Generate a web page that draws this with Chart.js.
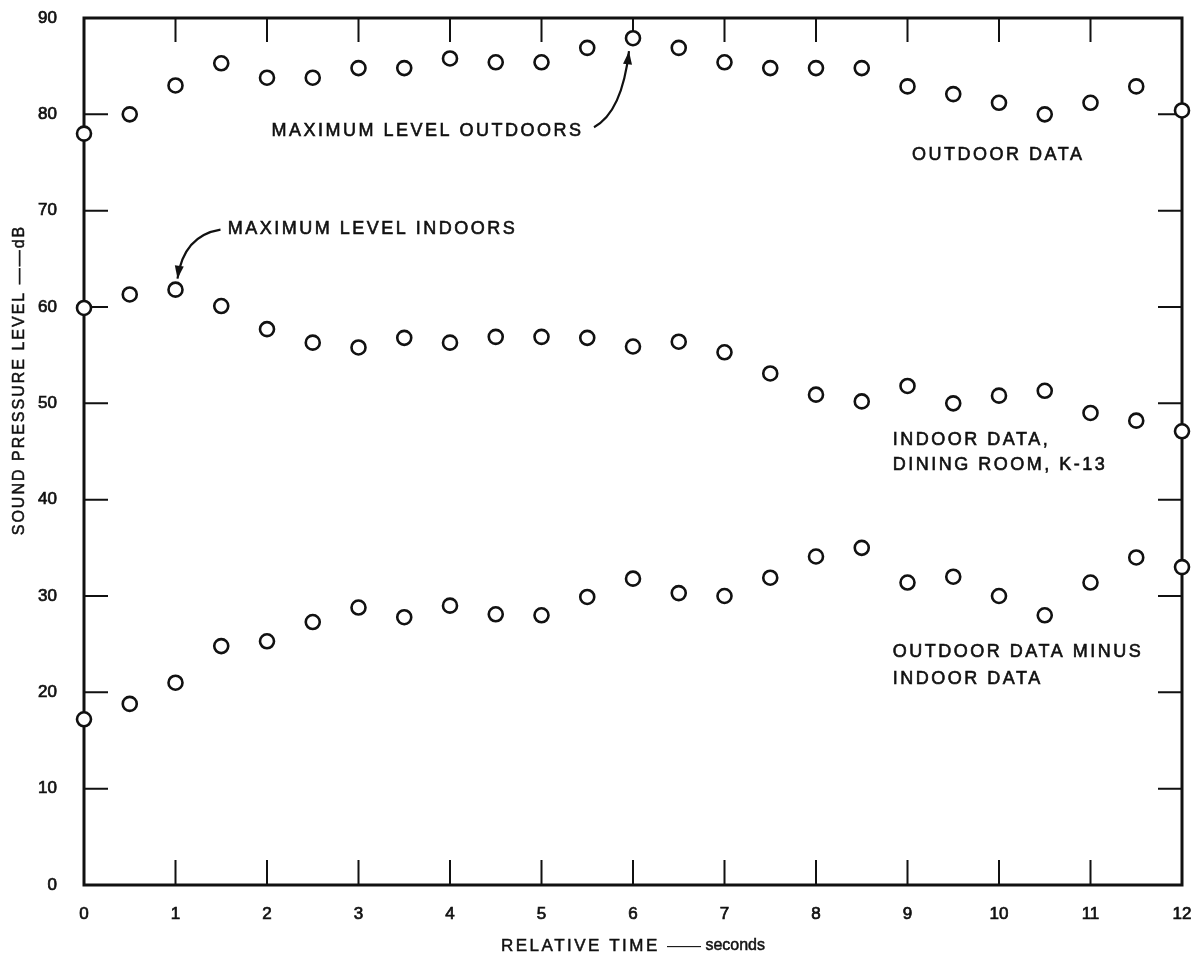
<!DOCTYPE html>
<html>
<head>
<meta charset="utf-8">
<script src="https://cdn.jsdelivr.net/npm/chart.js@4.4.1/dist/chart.umd.min.js"></script>
<style>
  body { margin: 0; background: #fff; }
  canvas { display: block; }
</style>
</head>
<body>
<canvas id="splChart" width="1198" height="962"></canvas>
<script>
// Relative time (s) and sound pressure levels (dB)
const times = [0, 0.5, 1, 1.5, 2, 2.5, 3, 3.5, 4, 4.5, 5, 5.5, 6, 6.5, 7, 7.5, 8, 8.5, 9, 9.5, 10, 10.5, 11, 11.5, 12];
const outdoor = [78, 80, 83, 85.3, 83.8, 83.8, 84.8, 84.8, 85.8, 85.4, 85.4, 86.9, 87.9, 86.9, 85.4, 84.8, 84.8, 84.8, 82.9, 82.1, 81.2, 80.0, 81.2, 82.9, 80.4];
const indoor = [59.9, 61.3, 61.8, 60.1, 57.7, 56.3, 55.8, 56.8, 56.3, 56.9, 56.9, 56.8, 55.9, 56.4, 55.3, 53.1, 50.9, 50.2, 51.8, 50.0, 50.8, 51.3, 49.0, 48.2, 47.1];
const difference = [17.2, 18.8, 21.0, 24.8, 25.3, 27.3, 28.8, 27.8, 29.0, 28.1, 28.0, 29.9, 31.8, 30.3, 30.0, 31.9, 34.1, 35.0, 31.4, 32.0, 30.0, 28.0, 31.4, 34.0, 33.0];
const xTicks = [0, 1, 2, 3, 4, 5, 6, 7, 8, 9, 10, 11, 12];
const yTicks = [0, 10, 20, 30, 40, 50, 60, 70, 80, 90];

const ink = "#111";
const labelFont = "Liberation Sans, Arial, sans-serif";

const toPoints = (ys) => times.map((t, i) => ({ x: t, y: ys[i] }));

const circleStyle = {
  pointStyle: "circle",
  pointRadius: 7,
  pointBorderWidth: 2.6,
  pointBorderColor: ink,
  pointBackgroundColor: "#fff",
  showLine: false,
  clip: false,
};

// text labels placed in data units: [time, dB, text]
const notes = [
  [2.05, 78.3, "MAXIMUM LEVEL OUTDOORS"],
  [9.05, 75.8, "OUTDOOR DATA"],
  [1.57, 68.1, "MAXIMUM LEVEL INDOORS"],
  [8.84, 46.2, "INDOOR DATA,"],
  [8.84, 43.6, "DINING ROOM, K-13"],
  [8.84, 24.2, "OUTDOOR DATA MINUS"],
  [8.84, 21.4, "INDOOR DATA"],
];

function arrow(ctx, x0, y0, cx, cy, x1, y1) {
  ctx.beginPath();
  ctx.moveTo(x0, y0);
  ctx.quadraticCurveTo(cx, cy, x1, y1);
  ctx.lineWidth = 2.2;
  ctx.stroke();
  const a = Math.atan2(y1 - cy, x1 - cx);
  const len = 13, w = 4.5;
  ctx.beginPath();
  ctx.moveTo(x1, y1);
  ctx.lineTo(x1 - len * Math.cos(a) + w * Math.sin(a), y1 - len * Math.sin(a) - w * Math.cos(a));
  ctx.lineTo(x1 - len * Math.cos(a) - w * Math.sin(a), y1 - len * Math.sin(a) + w * Math.cos(a));
  ctx.closePath();
  ctx.fill();
}

// fill + thin stroke so the text looks like the heavier type of the original
function heavyText(ctx, s, px, py) {
  ctx.fillText(s, px, py);
  ctx.strokeText(s, px, py);
}

const framePlugin = {
  id: "frame",
  beforeDatasetsDraw(chart) {
    const { ctx, chartArea: a, scales: { x, y } } = chart;
    ctx.save();
    ctx.strokeStyle = ink;
    ctx.lineWidth = 3;
    ctx.strokeRect(a.left, a.top, a.right - a.left, a.bottom - a.top);
    ctx.lineWidth = 2;
    ctx.beginPath();
    xTicks.slice(1, -1).forEach((t) => {
      const px = x.getPixelForValue(t);
      ctx.moveTo(px, a.top); ctx.lineTo(px, a.top + 24);
      ctx.moveTo(px, a.bottom); ctx.lineTo(px, a.bottom - 25);
    });
    yTicks.slice(1, -1).forEach((v) => {
      const py = y.getPixelForValue(v);
      ctx.moveTo(a.left, py); ctx.lineTo(a.left + 24, py);
      ctx.moveTo(a.right, py); ctx.lineTo(a.right - 24, py);
    });
    ctx.stroke();
    ctx.restore();
  },
  afterDraw(chart) {
    const { ctx, chartArea: a, scales: { x, y } } = chart;
    ctx.save();
    ctx.fillStyle = ink;
    ctx.strokeStyle = ink;
    ctx.lineWidth = 0.6;

    // annotations
    ctx.font = `18px ${labelFont}`;
    ctx.letterSpacing = "2.5px";
    ctx.textBaseline = "middle";
    ctx.textAlign = "left";
    notes.forEach(([t, v, s]) => heavyText(ctx, s, x.getPixelForValue(t), y.getPixelForValue(v)));

    // arrows pointing at the maxima
    const ox = x.getPixelForValue(6), oy = y.getPixelForValue(outdoor[12]);
    arrow(ctx, ox - 39, oy + 89, ox - 11, oy + 74, ox - 4, oy + 13);
    const ix = x.getPixelForValue(1), iy = y.getPixelForValue(indoor[2]);
    arrow(ctx, ix + 45, iy - 60, ix + 8, iy - 54, ix + 2, iy - 11);

    // x axis title
    ctx.lineWidth = 0.5;
    const caps = "RELATIVE TIME ", dash = "\u2014\u2014", small = " seconds";
    ctx.font = `17px ${labelFont}`;
    ctx.letterSpacing = "2.5px";
    const w1 = ctx.measureText(caps).width;
    ctx.letterSpacing = "0px";
    const w2 = ctx.measureText(dash).width;
    ctx.font = `16px ${labelFont}`;
    const w3 = ctx.measureText(small).width;
    const sx = (a.left + a.right) / 2 - (w1 + w2 + w3) / 2;
    const ty = 946;
    ctx.font = `17px ${labelFont}`;
    ctx.letterSpacing = "2.5px";
    heavyText(ctx, caps, sx, ty);
    ctx.letterSpacing = "0px";
    ctx.fillText(dash, sx + w1, ty);
    ctx.font = `16px ${labelFont}`;
    heavyText(ctx, small, sx + w1 + w2, ty);

    // y axis title
    ctx.translate(20, 380);
    ctx.rotate(-Math.PI / 2);
    ctx.textAlign = "center";
    ctx.font = `16px ${labelFont}`;
    ctx.letterSpacing = "2px";
    heavyText(ctx, "SOUND PRESSURE LEVEL \u2014\u2014dB", 0, 0);
    ctx.restore();
  },
};

const tickFont = { family: labelFont, size: 17 };

new Chart(document.getElementById("splChart"), {
  type: "scatter",
  data: {
    datasets: [
      { label: "Outdoor data", data: toPoints(outdoor), ...circleStyle },
      { label: "Indoor data, dining room, K-13", data: toPoints(indoor), ...circleStyle },
      { label: "Outdoor minus indoor", data: toPoints(difference), ...circleStyle },
    ],
  },
  options: {
    responsive: false,
    animation: false,
    devicePixelRatio: 1,
    layout: { padding: { top: 18, right: 16, left: 0, bottom: 0 } },
    plugins: { legend: { display: false }, tooltip: { enabled: false } },
    scales: {
      x: {
        type: "linear",
        min: 0,
        max: 12,
        afterFit: (s) => { s.height = 77; s.paddingLeft = 0; s.paddingRight = 0; },
        afterBuildTicks: (s) => { s.ticks = xTicks.map((v) => ({ value: v })); },
        ticks: { color: ink, font: tickFont, padding: 11, maxRotation: 0, textStrokeColor: ink, textStrokeWidth: 0.7 },
        grid: { display: false },
        border: { display: false },
      },
      y: {
        min: 0,
        max: 90,
        afterFit: (s) => { s.width = 84; s.paddingTop = 0; s.paddingBottom = 0; },
        afterBuildTicks: (s) => { s.ticks = yTicks.map((v) => ({ value: v })); },
        ticks: { color: ink, font: tickFont, padding: 19, textStrokeColor: ink, textStrokeWidth: 0.7 },
        grid: { display: false },
        border: { display: false },
      },
    },
  },
  plugins: [framePlugin],
});
</script>
</body>
</html>
